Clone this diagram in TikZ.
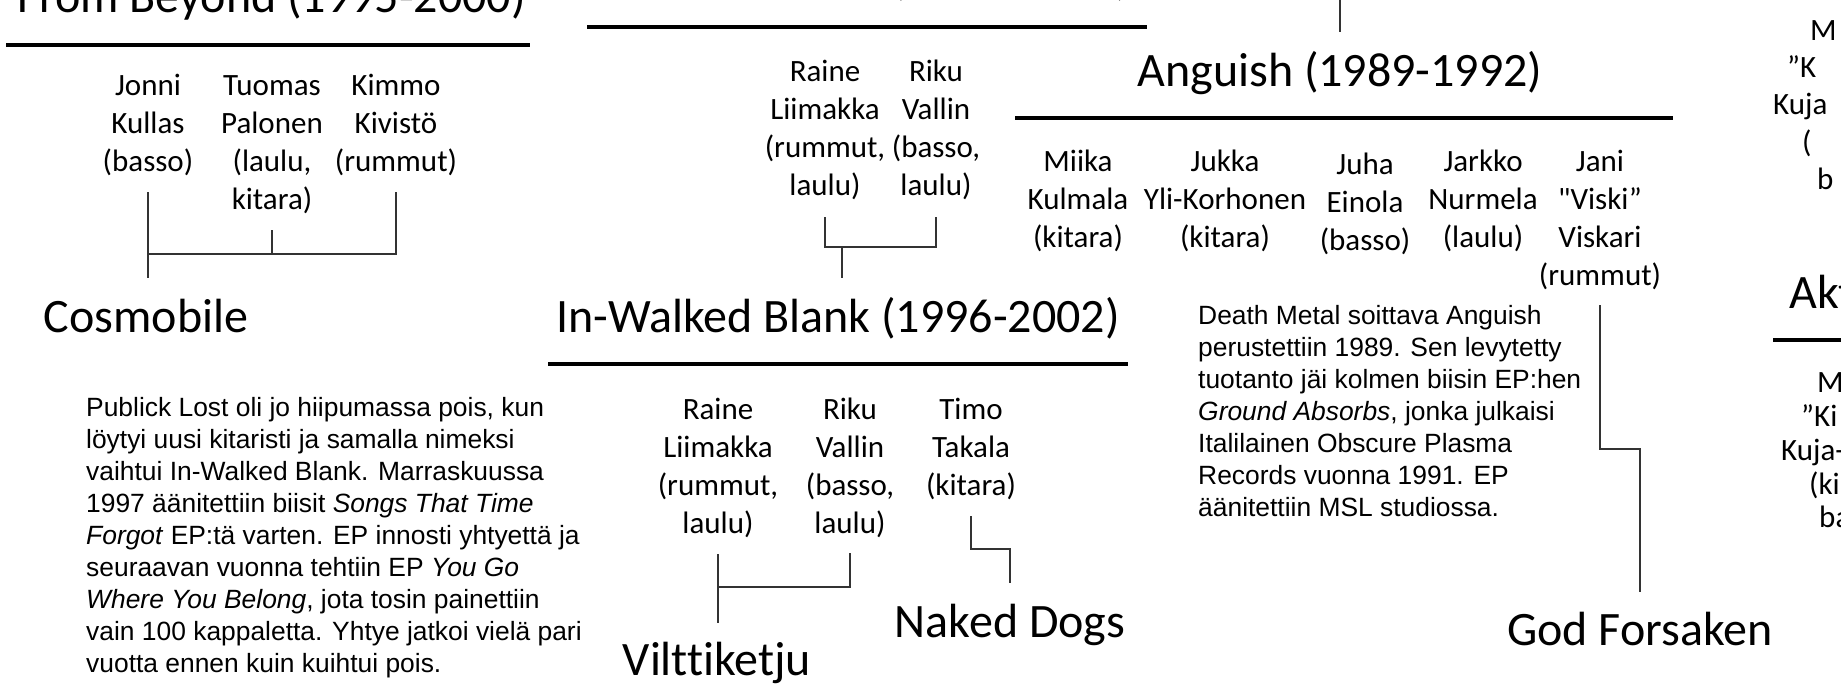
\documentclass[tikz,border=0pt]{standalone}
\usepackage{fontspec}
\setmainfont{Carlito}[Ligatures=NoCommon]
\newfontfamily\carlito{Carlito}[Ligatures=NoCommon]
\newfontfamily\parafont{Liberation Sans}
\begin{document}
\begin{tikzpicture}[x=1pt,y=-1pt,
  title/.style={font=\carlito\fontsize{48}{58}\selectfont, inner sep=0pt, anchor=base},
  member/.style={font=\carlito\fontsize{31}{38}\selectfont, inner sep=0pt, anchor=north, align=center},
  edgetext/.style={font=\carlito\fontsize{31}{38}\selectfont, inner sep=0pt, anchor=base west},
  para/.style={font=\parafont\fontsize{26.4}{32}\selectfont, inner sep=0pt, anchor=north west, align=left},
  rule/.style={line width=4pt},
  link/.style={line width=1.3pt, draw=black!80}]
\useasboundingbox (0,0) rectangle (1841,690);
\fill[white] (0,0) rectangle (1841,690);

% titles
\node[title, anchor=base east] (fb) at (526,13) {From Beyond (1995-2000)};
\node[title, anchor=base east] (pl) at (1130,-5) {Publick Lost (1993-1996)};
\node[title] (ang) at (1340,87) {Anguish (1989-1992)};
\node[title] (iwb) at (838,332) {In-Walked Blank (1996-2002)};
\node[title] (cos) at (146,332) {Cosmobile};
\node[title] (vil) at (717,675) {Vilttiketju};
\node[title] (nd) at (1010,637) {Naked Dogs};
\node[title] (gf) at (1640,645) {God Forsaken};
\node[title, anchor=base west] (akt) at (1789,308) {Akt};

% underlines
\draw[rule] (6,45) -- (530,45);
\draw[rule] (587,27) -- (1147,27);
\draw[rule] (1015,118) -- (1673,118);
\draw[rule] (548,364) -- (1128,364);
\draw[rule] (1773,340) -- (1841,340);

% From Beyond members
\node[member] (jonni) at (148,68.4) {\strut Jonni\\Kullas\\(basso)};
\node[member] (tuomas) at (272,68.4) {\strut Tuomas\\Palonen\\(laulu,\\kitara)};
\node[member] (kimmo) at (396,68.4) {\strut Kimmo\\Kivistö\\(rummut)};

% Publick Lost members
\node[member] (raine1) at (825,54.4) {\strut Raine\\Liimakka\\(rummut,\\laulu)};
\node[member] (riku1) at (936,54.4) {\strut Riku\\Vallin\\(basso,\\laulu)};

% Anguish members
\node[member] (miika) at (1078,144.4) {\strut Miika\\Kulmala\\(kitara)};
\node[member] (jukka) at (1225,144.4) {\strut Jukka\\Yli-Korhonen\\(kitara)};
\node[member] (juha) at (1365,147.4) {\strut Juha\\Einola\\(basso)};
\node[member] (jarkko) at (1483,144.4) {\strut Jarkko\\Nurmela\\(laulu)};
\node[member] (jani) at (1600,144.4) {\strut Jani\\"Viski”\\Viskari\\(rummut)};

% In-Walked Blank members
\node[member] (raine2) at (718,392.4) {\strut Raine\\Liimakka\\(rummut,\\laulu)};
\node[member] (riku2) at (850,392.4) {\strut Riku\\Vallin\\(basso,\\laulu)};
\node[member] (timo) at (971,392.4) {\strut Timo\\Takala\\(kitara)};

% right edge columns (cut by the page edge)
\node[edgetext] (r1) at (1810,41) {M};
\node[edgetext] (r2) at (1787,78) {”K};
\node[edgetext] (r3) at (1773,115) {Kuja};
\node[edgetext] (r4) at (1802,152) {(};
\node[edgetext] (r5) at (1817,189) {b};
\node[edgetext] (s1) at (1817,392) {M};
\node[edgetext] (s2) at (1801,426) {”Ki};
\node[edgetext] (s3) at (1781,460) {Kuja-};
\node[edgetext] (s4) at (1809,494) {(ki};
\node[edgetext] (s5) at (1819,527) {ba};

% paragraphs
\node[para] (ptext) at (86,393.6) {\strut Publick Lost oli jo hiipumassa pois, kun\\
löytyi uusi kitaristi ja samalla nimeksi\\
vaihtui In-Walked Blank. Marraskuussa\\
1997 äänitettiin biisit \textit{Songs That Time}\\
\textit{Forgot} EP:tä varten. EP innosti yhtyettä ja\\
seuraavan vuonna tehtiin EP \textit{You Go}\\
\textit{Where You Belong}, jota tosin painettiin\\
vain 100 kappaletta. Yhtye jatkoi vielä pari\\
vuotta ennen kuin kuihtui pois.};
\node[para] (atext) at (1198,301.6) {\strut Death Metal soittava Anguish\\
perustettiin 1989. Sen levytetty\\
tuotanto jäi kolmen biisin EP:hen\\
\textit{Ground Absorbs}, jonka julkaisi\\
Italilainen Obscure Plasma\\
Records vuonna 1991. EP\\
äänitettiin MSL studiossa.};

% connectors
\draw[link] (ang.base |- 0,0) -- (ang.base |- 0,32);
\draw[link] (jonni.south |- 0,192) -- (jonni.south |- 0,278);
\draw[link] (jonni.south |- 0,254) -- (kimmo.south |- 0,254) -- (kimmo.south |- 0,192);
\draw[link] (tuomas.south |- 0,230) -- (tuomas.south |- 0,254);
\coordinate (pljoin) at (842,247);
\draw[link] (raine1.south |- 0,217) -- (raine1.south |- 0,247) -- (riku1.south |- 0,247) -- (riku1.south |- 0,217);
\draw[link] (pljoin) -- (pljoin |- 0,278);
\draw[link] (raine2.south |- 0,554) -- (raine2.south |- 0,623);
\draw[link] (raine2.south |- 0,587) -- (riku2.south |- 0,587) -- (riku2.south |- 0,553);
\draw[link] (timo.south |- 0,516) -- (timo.south |- 0,549) -- (nd.base |- 0,549) -- (nd.base |- 0,583);
\draw[link] (jani.south |- 0,305) -- (jani.south |- 0,449) -- (gf.base |- 0,449) -- (gf.base |- 0,592);
\end{tikzpicture}
\end{document}
